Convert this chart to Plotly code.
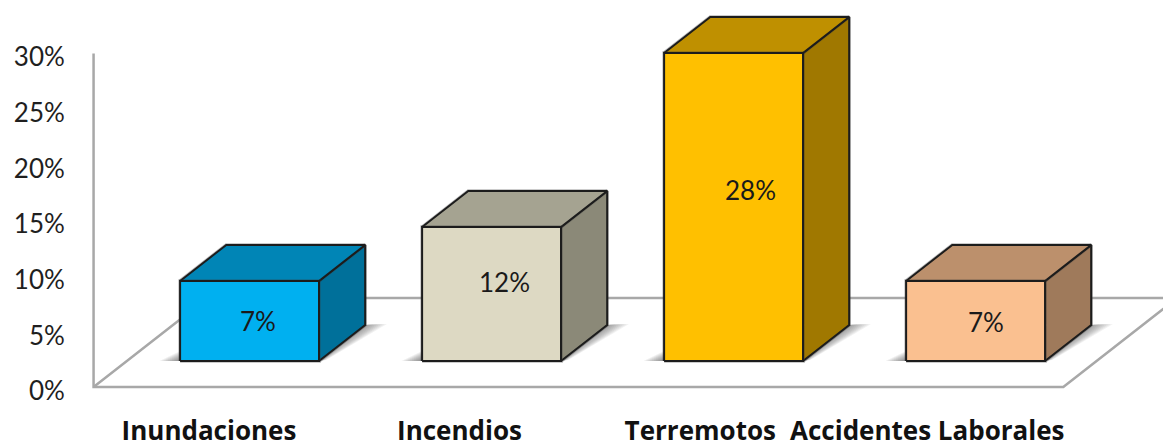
import plotly.graph_objects as go

categories = ["Inundaciones", "Incendios", "Terremotos", "Accidentes Laborales"]
values = [7.2, 12.05, 27.7, 7.2]
y_ticks = [0, 5, 10, 15, 20, 25, 30]
y_tick_labels = ["0%", "5%", "10%", "15%", "20%", "25%", "30%"]

front_colors = ["#00B0F0", "#DDD9C3", "#FFC000", "#FAC090"]
top_colors = ["#0085B6", "#A5A391", "#BF9000", "#BC906C"]
side_colors = ["#00709A", "#8B8978", "#A07800", "#9F7A5B"]

# Pseudo-3D projection (data units)
DX, DY = 0.471, 8.0       # full floor depth
D_FRONT, D_BACK = 0.292, 0.697
HALF_W = 0.287
FLOOR_L, FLOOR_R = -0.507, 3.5
label_nudge = [-0.03, 0.005, 0.0, -0.062]
text_dx = [8, 13, 17, 10]
text_dy = [0, 12, 17, -1]


def proj(x, v, d):
    return x + d * DX, v + d * DY


def poly(points, fill, line="#1c1c1c", width=2):
    xs, ys = zip(*(points + points[:1]))
    return go.Scatter(x=xs, y=ys, mode="lines", fill="toself", fillcolor=fill,
                      line=dict(color=line, width=width), hoverinfo="skip",
                      showlegend=False)


fig = go.Figure()

# Floor and left wall
floor_grey = "#A8A8A8"
for pts in (
    [proj(FLOOR_L, 30, 0), proj(FLOOR_L, 0, 0), proj(FLOOR_R, 0, 0), proj(FLOOR_R, 0, 1)],
    [proj(FLOOR_L, 0, 0), proj(FLOOR_L, 0, 1), proj(FLOOR_R, 0, 1)],
):
    xs, ys = zip(*pts)
    fig.add_trace(go.Scatter(x=xs, y=ys, mode="lines", hoverinfo="skip", showlegend=False,
                             line=dict(color=floor_grey, width=2.5)))

annotations = []
for i, v in enumerate(values):
    l, r = i - HALF_W, i + HALF_W
    fl = proj(l, 0, D_FRONT)
    fr = proj(r, 0, D_FRONT)
    br = proj(r, 0, D_BACK)
    # soft ground shadows
    for k in range(1, 11):
        s = k / 10
        fig.add_trace(poly([(fl[0] - 0.085 * s, fl[1]), fl, (fl[0], fl[1] + 0.9 * s)],
                           "rgba(70,70,70,0.08)", "rgba(0,0,0,0)", 0))
        fig.add_trace(poly([fr, br, (br[0] + 0.09 * s, br[1] + 0.1),
                            (fr[0] + 0.03 * s, fr[1] + 0.1)],
                           "rgba(70,70,70,0.07)", "rgba(0,0,0,0)", 0))
    side = [proj(r, 0, D_FRONT), proj(r, 0, D_BACK), proj(r, v, D_BACK), proj(r, v, D_FRONT)]
    top = [proj(l, v, D_FRONT), proj(l, v, D_BACK), proj(r, v, D_BACK), proj(r, v, D_FRONT)]
    front = [proj(l, 0, D_FRONT), proj(r, 0, D_FRONT), proj(r, v, D_FRONT), proj(l, v, D_FRONT)]
    for pts, col in ((side, side_colors[i]), (top, top_colors[i]), (front, front_colors[i])):
        fig.add_trace(poly(pts, "rgba(0,0,0,0)", "rgba(60,60,60,0.35)", 3.5))
        fig.add_trace(poly(pts, col))
    cx, cy = proj(i, v / 2, D_FRONT)
    annotations.append(dict(x=cx, y=cy, text=f"{round(v)}%", showarrow=False,
                            xshift=text_dx[i], yshift=text_dy[i],
                            font=dict(family="Lato", size=26, color="#1a1a1a")))

fig.update_layout(
    width=1163, height=442, autosize=False,
    margin=dict(l=88, r=0, t=0, b=42),
    paper_bgcolor="white", plot_bgcolor="white",
    font=dict(family="Lato", color="#1f1f1f"),
    annotations=annotations,
    xaxis=dict(range=[-0.53, 3.912], showgrid=False, zeroline=False, showline=False,
               automargin=False,
               tickmode="array", tickvals=[i + n for i, n in enumerate(label_nudge)],
               ticktext=categories, ticks="outside", ticklen=8,
               tickcolor="rgba(0,0,0,0)",
               tickfont=dict(family="Open Sans", size=26, weight="bold", color="#111111")),
    yaxis=dict(range=[-1.169, 34.8], showgrid=False, zeroline=False, showline=False,
               automargin=False,
               tickmode="array", tickvals=y_ticks, ticktext=y_tick_labels,
               ticks="outside", ticklen=17,
               tickcolor="rgba(0,0,0,0)", ticklabelshift=4,
               tickfont=dict(family="Lato", size=26, color="#1f1f1f")),
)

fig.write_html("out.html", config={"displayModeBar": False},
               post_script="document.body.style.margin='0';document.body.style.overflow='hidden';")
